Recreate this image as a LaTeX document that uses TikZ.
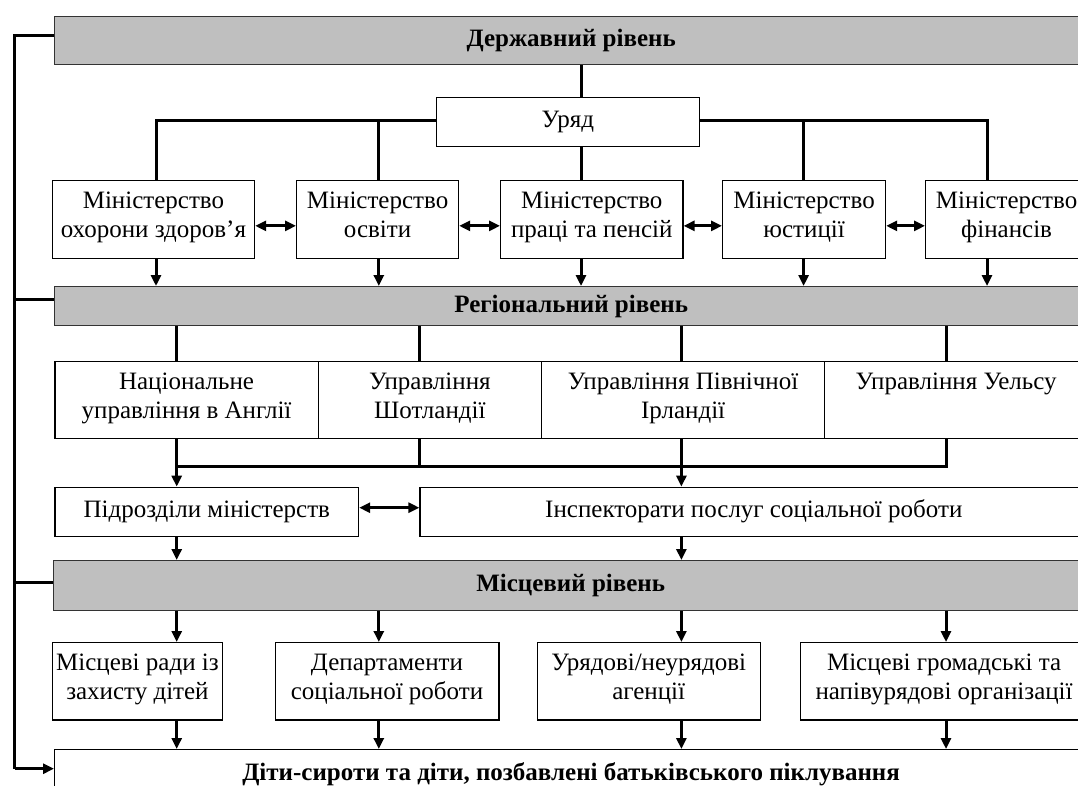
\documentclass[tikz,border=0pt]{standalone}
\usepackage{fontspec}
\setmainfont{Liberation Serif}
\usetikzlibrary{arrows.meta}
\begin{document}
\begin{tikzpicture}[x=1pt,y=-1pt,
  every node/.style={inner sep=0pt, align=center, font=\fontsize{25}{29}\selectfont,
    execute at begin node=\strut, execute at end node=\strut},
  band/.style={draw=black!80, fill=black!25, line width=1.4pt, anchor=north west, font=\fontsize{25}{29}\selectfont\bfseries},
  box/.style={draw=black, fill=white, line width=1.2pt, anchor=north west},
  conn/.style={line width=3pt},
  arr/.style={conn, -{Triangle[length=11pt,width=10pt]}},
  darr/.style={conn, {Triangle[length=11pt,width=10pt]}-{Triangle[length=11pt,width=10pt]}}]
\useasboundingbox (0,0) rectangle (1078,785);
\fill[white] (0,0) rectangle (1078,785);
\clip (0,0) rectangle (1078,785);
% columns
\coordinate (k1) at (156,0);
\coordinate (k2) at (378.8,0);
\coordinate (k3) at (581,0);
\coordinate (k4) at (803.6,0);
\coordinate (k5) at (987,0);
\coordinate (j1) at (176.7,0);
\coordinate (j2) at (419.4,0);
\coordinate (j3) at (681.4,0);
\coordinate (j4) at (946,0);
\coordinate (l2) at (378.8,0);
\coordinate (hy) at (0,466);
% bands
\node[band, minimum width=1033pt, minimum height=48pt] (state) at (54,15.5) {Державний рівень};
\node[band, minimum width=1033pt, minimum height=39pt] (reg) at (54,286) {Регіональний рівень};
\node[band, minimum width=1034pt, minimum height=50pt] (loc) at (53,560) {Місцевий рівень};
% government
\node[box, minimum width=262.5pt, minimum height=48.5pt] (ur) at (436,97) {Уряд};
% ministries
\node[box, minimum width=202.3pt, minimum height=77.5pt] (m1) at (51.7,180) {Міністерство\\охорони здоров’я};
\node[box, minimum width=162pt, minimum height=77.5pt] (m2) at (296,180) {Міністерство\\освіти};
\node[box, minimum width=182.4pt, minimum height=77.5pt] (m3) at (500,180) {Міністерство\\праці та пенсій};
\node[box, minimum width=163pt, minimum height=77.5pt] (m4) at (722,180) {Міністерство\\юстиції};
\node[box, minimum width=162pt, minimum height=77.5pt] (m5) at (925,180) {Міністерство\\фінансів};
% regional boxes
\node[box, minimum width=263.1pt, minimum height=76.7pt] (r1) at (54.4,361) {Національне\\управління в Англії};
\node[box, minimum width=223.5pt, minimum height=76.7pt] (r2) at (317.5,361) {Управління\\Шотландії};
\node[box, minimum width=283pt, minimum height=76.7pt] (r3) at (541,361) {Управління Північної\\Ірландії};
\node[box, minimum width=263pt, minimum height=76.7pt] (r4) at (824,361) {Управління Уельсу\\};
% subdivisions
\node[box, minimum width=303.6pt, minimum height=49pt] (p1) at (54.4,486.6) {Підрозділи міністерств};
\node[box, minimum width=667.6pt, minimum height=49pt] (p2) at (419.4,486.6) {Інспекторати послуг соціальної роботи};
% local boxes
\node[box, minimum width=170.3pt, minimum height=77.4pt] (lb1) at (51.7,642) {Місцеві ради із\\захисту дітей};
\node[box, minimum width=223.8pt, minimum height=77.4pt] (lb2) at (274.5,642) {Департаменти\\соціальної роботи};
\node[box, minimum width=223.1pt, minimum height=77.4pt] (lb3) at (536.5,642) {Урядові/неурядові\\агенції};
\node[box, minimum width=287pt, minimum height=77.4pt] (lb4) at (800,642) {Місцеві громадські та\\напівурядові організації};
% final
\node[box, minimum width=1033pt, minimum height=50pt, font=\fontsize{25}{29}\selectfont\bfseries] (fin) at (54,749) {Діти-сироти та діти, позбавлені батьківського піклування};
% left bus
\coordinate (b1) at (14.5,35.5);
\coordinate (b2) at (14.5,299);
\coordinate (b3) at (14.5,582.7);
\coordinate (b4) at (14.5,768.7);
\draw[conn] (b1 -| state.west) -- (b1) -- (b4);
\draw[conn] (b2) -- (b2 -| reg.west);
\draw[conn] (b3) -- (b3 -| loc.west);
\draw[arr] (b4) -- (b4 -| fin.west);
% state level connectors
\draw[conn] (state.south -| k3) -- (ur.north -| k3);
\draw[conn] (ur.south -| k3) -- (m3.north -| k3);
\draw[conn] ([yshift=1.6pt]ur.west) -| (m1.north -| k1);
\draw[conn] ([yshift=1.6pt]ur.east) -| (m5.north -| k5);
\draw[conn] ([yshift=1.6pt]ur.west -| k2) -- (m2.north -| k2);
\draw[conn] ([yshift=1.6pt]ur.east -| k4) -- (m4.north -| k4);
\draw[darr] ([yshift=-6.5pt]m1.east) -- ([yshift=-6.5pt]m2.west);
\draw[darr] ([yshift=-6.5pt]m2.east) -- ([yshift=-6.5pt]m3.west);
\draw[darr] ([yshift=-6.5pt]m3.east) -- ([yshift=-6.5pt]m4.west);
\draw[darr] ([yshift=-6.5pt]m4.east) -- ([yshift=-6.5pt]m5.west);
\draw[arr] (m1.south -| k1) -- (reg.north -| k1);
\draw[arr] (m2.south -| k2) -- (reg.north -| k2);
\draw[arr] (m3.south -| k3) -- (reg.north -| k3);
\draw[arr] (m4.south -| k4) -- (reg.north -| k4);
\draw[arr] (m5.south -| k5) -- (reg.north -| k5);
% regional connectors
\draw[conn] (reg.south -| j1) -- (r1.north -| j1);
\draw[conn] (reg.south -| j2) -- (r2.north -| j2);
\draw[conn] (reg.south -| j3) -- (r3.north -| j3);
\draw[conn] (reg.south -| j4) -- (r4.north -| j4);
\draw[conn] (r4.south -| j4) |- (hy -| j1);
\draw[conn] (r2.south -| j2) -- (hy -| j2);
\draw[arr] (r1.south -| j1) -- (p1.north -| j1);
\draw[arr] (r3.south -| j3) -- (p2.north -| j3);
\draw[darr] ([yshift=4pt]p1.east) -- ([yshift=4pt]p2.west);
\draw[arr] (p1.south -| j1) -- (loc.north -| j1);
\draw[arr] (p2.south -| j3) -- (loc.north -| j3);
% local connectors
\draw[arr] (loc.south -| j1) -- (lb1.north -| j1);
\draw[arr] (loc.south -| l2) -- (lb2.north -| l2);
\draw[arr] (loc.south -| j3) -- (lb3.north -| j3);
\draw[arr] (loc.south -| j4) -- (lb4.north -| j4);
\draw[arr] (lb1.south -| j1) -- (fin.north -| j1);
\draw[arr] (lb2.south -| l2) -- (fin.north -| l2);
\draw[arr] (lb3.south -| j3) -- (fin.north -| j3);
\draw[arr] (lb4.south -| j4) -- (fin.north -| j4);
\end{tikzpicture}
\end{document}
